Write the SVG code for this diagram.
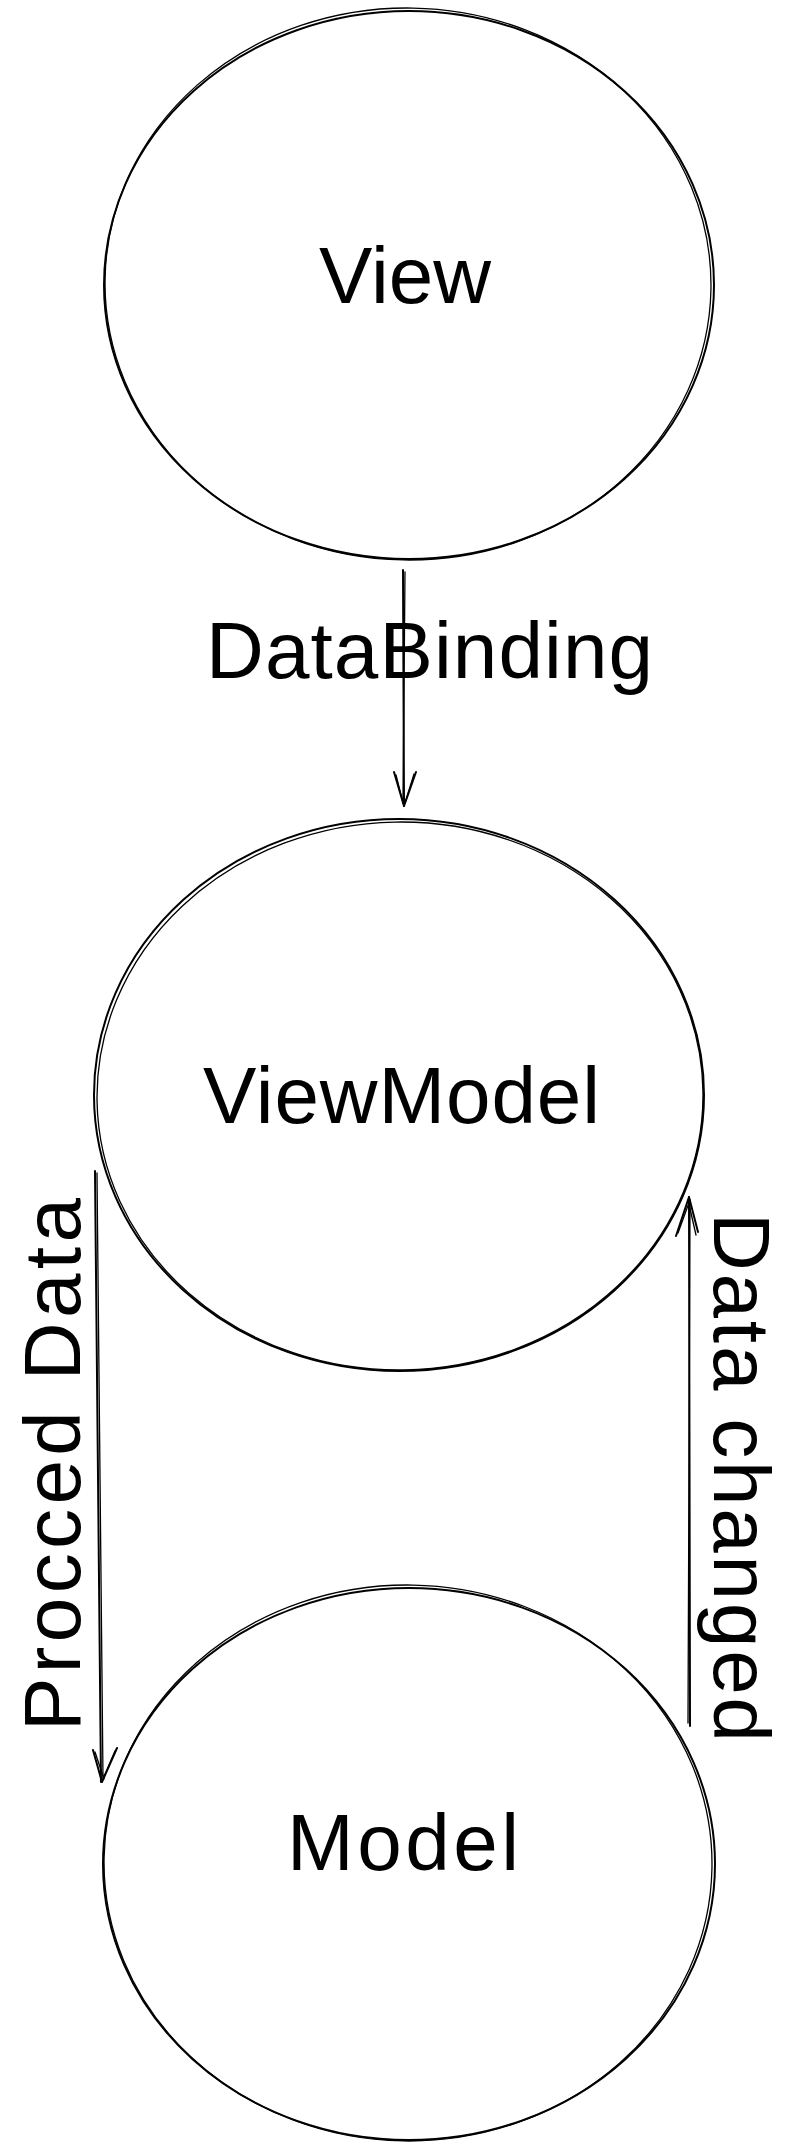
<svg xmlns="http://www.w3.org/2000/svg" width="794" height="2148" viewBox="0 0 794 2148">
<style>
.sk{fill:none;stroke:#000;stroke-width:2;stroke-linecap:round;stroke-linejoin:round}
.sk2{fill:none;stroke:#000;stroke-width:1.3;stroke-linecap:round}
.lbl{font-family:"Liberation Sans",Arial,sans-serif;font-size:80px;fill:#000}
</style>
<rect x="0" y="0" width="794" height="2148" fill="#fff"/>
<g id="connectors">
  <g id="edge-databinding">
    <path class="sk" d="M403 570 L404 806"/>
    <path class="sk2" d="M405 572 L403 803"/>
    <path class="sk" d="M394 772 L404 806 M416 772 L404 806"/>
    <path class="sk2" d="M396 775 L403 803 M414 774 L405 803"/>
  </g>
  <g id="edge-procced">
    <path class="sk" d="M95 1171 L101 1782"/>
    <path class="sk2" d="M97 1173 L103 1779"/>
    <path class="sk" d="M93 1750 L102 1782 M117 1748 L102 1782"/>
    <path class="sk2" d="M95 1752 L104 1779 M115 1751 L103 1779"/>
  </g>
  <g id="edge-changed">
    <path class="sk" d="M690 1726 L689 1197"/>
    <path class="sk2" d="M688 1723 L690 1200"/>
    <path class="sk" d="M676 1236 L689 1197 M698 1232 L689 1197"/>
    <path class="sk2" d="M678 1233 L690 1200 M696 1235 L688 1200"/>
  </g>
  <text class="lbl" x="206" y="678" textLength="447" lengthAdjust="spacing">DataBinding</text>
  <text class="lbl" transform="translate(80,1731) rotate(-90)" textLength="533" lengthAdjust="spacing">Procced Data</text>
  <text class="lbl" transform="translate(714,1213) rotate(90)" textLength="529" lengthAdjust="spacing">Data changed</text>
</g>
<g id="node-view">
  <ellipse class="sk" cx="409" cy="285" rx="305" ry="274"/>
  <ellipse class="sk2" cx="408" cy="284" rx="303" ry="276" transform="rotate(1 408 284)"/>
  <text class="lbl" x="405" y="303" text-anchor="middle">View</text>
</g>
<g id="node-viewmodel">
  <ellipse class="sk" cx="399" cy="1095" rx="305" ry="276"/>
  <ellipse class="sk2" cx="400" cy="1096" rx="303" ry="274" transform="rotate(-1 400 1096)"/>
  <text class="lbl" x="203" y="1123" textLength="397" lengthAdjust="spacing">ViewModel</text>
</g>
<g id="node-model">
  <ellipse class="sk" cx="409" cy="1864" rx="306" ry="276"/>
  <ellipse class="sk2" cx="408" cy="1863" rx="304" ry="278" transform="rotate(1 408 1863)"/>
  <text class="lbl" x="287" y="1870" textLength="232" lengthAdjust="spacing">Model</text>
</g>
</svg>
